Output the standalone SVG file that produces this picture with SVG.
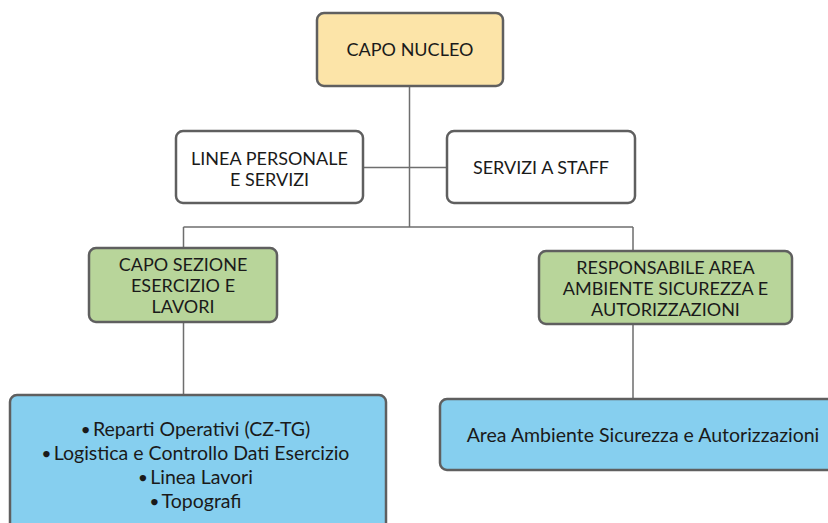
<svg xmlns="http://www.w3.org/2000/svg" width="828" height="523" viewBox="0 0 828 523">
<style>
.box{stroke:#5f5f5f;stroke-width:2.5}
.y{fill:#fce4a8}.w{fill:#ffffff}.g{fill:#b8d59a}.b{fill:#86cfef}
.t{font-family:Lato,"Open Sans",sans-serif;font-size:18px;fill:#1a1a1a;text-anchor:middle}
.tb{font-size:19.5px}
.d{font-size:13px}
.c{stroke:#6e6e6e;stroke-width:1.5;fill:none}
</style>
<rect width="828" height="523" fill="#ffffff"/>
<g id="connectors">
<path class="c" d="M409.5 86V227"/>
<path class="c" d="M363 167.5H447"/>
<path class="c" d="M183.5 227H633"/>
<path class="c" d="M183.5 227V248M183.5 322V395"/>
<path class="c" d="M633 227V251M633 324V399"/>
</g>
<g id="capo-nucleo">
<rect class="box y" x="317" y="13" width="186" height="73" rx="7"/>
<text class="t" x="410" y="56">CAPO NUCLEO</text>
</g>
<g id="linea-personale">
<rect class="box w" x="176" y="131" width="187" height="72" rx="7"/>
<text class="t" x="269.5" y="165">LINEA PERSONALE</text>
<text class="t" x="269.5" y="186">E SERVIZI</text>
</g>
<g id="servizi-staff">
<rect class="box w" x="447" y="131" width="188" height="72" rx="7"/>
<text class="t" x="541" y="174">SERVIZI A STAFF</text>
</g>
<g id="capo-sezione">
<rect class="box g" x="89" y="248" width="188" height="74" rx="7"/>
<text class="t" x="183" y="271">CAPO SEZIONE</text>
<text class="t" x="183" y="292">ESERCIZIO E</text>
<text class="t" x="183" y="313">LAVORI</text>
</g>
<g id="responsabile-area">
<rect class="box g" x="539" y="251" width="253" height="73" rx="7"/>
<text class="t" x="665.5" y="274">RESPONSABILE AREA</text>
<text class="t" x="665.5" y="295">AMBIENTE SICUREZZA E</text>
<text class="t" x="665.5" y="316">AUTORIZZAZIONI</text>
</g>
<g id="reparti">
<rect class="box b" x="10" y="395" width="376" height="150" rx="7"/>
<text class="t tb" x="196" y="436"><tspan class="d" dy="-2">● </tspan><tspan dy="2">Reparti Operativi (CZ-TG)</tspan></text>
<text class="t tb" x="196" y="460"><tspan class="d" dy="-2">● </tspan><tspan dy="2">Logistica e Controllo Dati Esercizio</tspan></text>
<text class="t tb" x="196" y="484"><tspan class="d" dy="-2">● </tspan><tspan dy="2">Linea Lavori</tspan></text>
<text class="t tb" x="196" y="508"><tspan class="d" dy="-2">● </tspan><tspan dy="2">Topografi</tspan></text>
</g>
<g id="area-ambiente">
<rect class="box b" x="440" y="399" width="400" height="71" rx="7"/>
<text class="t tb" x="643" y="442">Area Ambiente Sicurezza e Autorizzazioni</text>
</g>
</svg>
